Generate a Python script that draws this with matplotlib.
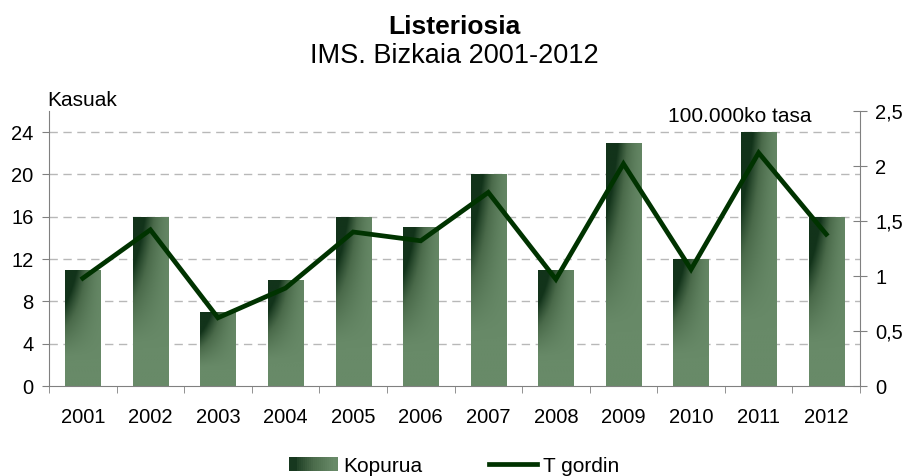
import matplotlib
matplotlib.use("Agg")
import matplotlib.pyplot as plt
import numpy as np
from matplotlib.patches import Rectangle
from matplotlib.lines import Line2D
from matplotlib.legend_handler import HandlerBase
from matplotlib.colors import LinearSegmentedColormap

plt.rcParams['font.family'] = ['Liberation Sans', 'DejaVu Sans']

years = ['2001', '2002', '2003', '2004', '2005', '2006', '2007', '2008', '2009', '2010', '2011', '2012']
kopurua = [11, 16, 7, 10, 16, 15, 20, 11, 23, 12, 24, 16]
t_gordin = [0.98, 1.42, 0.62, 0.89, 1.40, 1.32, 1.76, 0.97, 2.02, 1.06, 2.12, 1.38]
left_ticks = [0, 4, 8, 12, 16, 20, 24]
right_ticks = [0, 0.5, 1, 1.5, 2, 2.5]
right_labels = ['0', '0,5', '1', '1,5', '2', '2,5']

dark = '#12331a'
light = '#688a68'
cmap = LinearSegmentedColormap.from_list('g', [light, '#4a6a4a', dark])
line_color = '#003300'
grid_color = '#b8b8b8'
spine_color = '#808080'

fig = plt.figure(figsize=(9.08, 4.76), dpi=100)
ax = fig.add_axes([49/908, 1-386/476, (860-49)/908, (386-111)/476])
ax2 = ax.twinx()

x = np.arange(len(years))
bw = 0.52

# gradient image
gx = np.linspace(0, 1, 60)
gy = np.linspace(0, 1, 120)
GX, GY = np.meshgrid(gx, gy)  # GY 0 bottom -> 1 top
grad = np.clip((1 - GX) ** 1.6 * np.clip((GY - 0.25) / 0.75, 0, 1) ** 1.2 * 1.6, 0, 1)
grad = np.clip(grad + 0.25 * np.clip((GY - 0.2), 0, 1) * (1 - GX * 0.6), 0, 1)

bars = ax.bar(x, kopurua, width=bw, color='none', edgecolor='none', zorder=2)
for b, v in zip(bars, kopurua):
    x0 = b.get_x()
    im = ax.imshow(grad, extent=[x0, x0 + bw, 0, v], origin='lower', cmap=cmap,
                   vmin=0, vmax=1, aspect='auto', zorder=2, interpolation='bilinear')
    im.set_clip_path(b)

ax.set_xlim(-0.5, len(years) - 0.5)
ax.set_ylim(0, 26)
ax2.set_ylim(0, 2.5)

ax2.plot(x, t_gordin, color=line_color, lw=3.4, solid_joinstyle='miter', zorder=3)

for t in left_ticks[1:]:
    ax.axhline(t, color=grid_color, lw=1, ls=(0, (6, 4)), zorder=1)

ax.set_yticks(left_ticks)
ax.set_yticklabels([str(t) for t in left_ticks], fontsize=14.5)
ax.set_xticks(x)
ax.set_xticklabels(years, fontsize=14.5)
ax.set_xticks(np.arange(-0.5, len(years)), minor=True)
ax.tick_params(axis='x', which='major', length=0, pad=16)
ax.tick_params(axis='x', which='minor', length=5, color=spine_color, direction='out')
ax.tick_params(axis='y', length=5, color=spine_color, direction='out', pad=6)

ax2.set_yticks(right_ticks)
ax2.set_yticklabels(right_labels, fontsize=14.5)
ax2.tick_params(axis='y', length=10, color=spine_color, direction='inout', pad=6)

for a in (ax, ax2):
    a.spines['top'].set_visible(False)
    for s in ('left', 'right', 'bottom'):
        a.spines[s].set_color(spine_color)
ax.spines['right'].set_visible(False)
ax2.spines['left'].set_visible(False)
ax2.spines['bottom'].set_visible(False)

fig.text(0.5, 1 - 34/476, 'Listeriosia', ha='center', va='baseline', fontsize=19, fontweight='bold')
fig.text(0.5, 1 - 63/476, 'IMS. Bizkaia 2001-2012', ha='center', va='baseline', fontsize=19.5)
fig.text(47/908, 1 - 106/476, 'Kasuak', ha='left', va='baseline', fontsize=15)
fig.text(811/908, 1 - 122/476, '100.000ko tasa', ha='right', va='baseline', fontsize=15)


class GradHandler(HandlerBase):
    def create_artists(self, legend, orig_handle, xdescent, ydescent, width, height, fontsize, trans):
        arts = []
        n = 24
        for i in range(n):
            f = i / (n - 1)
            if f < 0.15:
                val = 0.95
            else:
                val = np.clip(1.05 - f * 1.1, 0, 1)
            c = cmap(val)
            r = Rectangle((-xdescent + width * i / n, -ydescent), width / n + 0.3, height,
                          facecolor=c, edgecolor='none', transform=trans)
            arts.append(r)
        return arts


bar_handle = Rectangle((0, 0), 1, 1)
line_handle = Line2D([], [], color=line_color, lw=3.4)
fig.legend([bar_handle, line_handle], ['Kopurua', 'T gordin'],
           handler_map={Rectangle: GradHandler()},
           loc='center', bbox_to_anchor=(0.5, 1 - 466/476), ncol=2, frameon=False,
           fontsize=15, handlelength=2.3, handleheight=0.65, handletextpad=0.28,
           columnspacing=3.2, borderpad=0, borderaxespad=0)

fig.savefig('out.png', dpi=100)
